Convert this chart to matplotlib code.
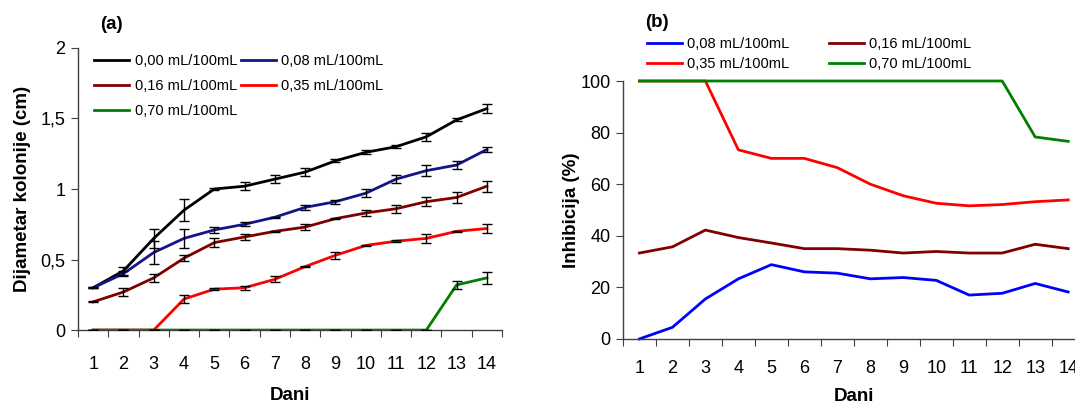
import matplotlib
matplotlib.use("Agg")
import matplotlib.pyplot as plt
import numpy as np

plt.rcParams['font.family'] = ['Liberation Sans', 'DejaVu Sans']

days = list(range(1, 15))

# Colony diameter (cm) per concentration
d000 = [0.30, 0.42, 0.65, 0.85, 1.00, 1.02, 1.07, 1.12, 1.20, 1.26, 1.30, 1.37, 1.49, 1.57]
d008 = [0.30, 0.40, 0.55, 0.65, 0.71, 0.75, 0.80, 0.87, 0.91, 0.97, 1.07, 1.13, 1.17, 1.28]
d016 = [0.20, 0.27, 0.37, 0.51, 0.62, 0.66, 0.70, 0.73, 0.79, 0.83, 0.86, 0.91, 0.94, 1.02]
d035 = [0.00, 0.00, 0.00, 0.22, 0.29, 0.30, 0.36, 0.45, 0.53, 0.60, 0.63, 0.65, 0.70, 0.72]
d070 = [0.00, 0.00, 0.00, 0.00, 0.00, 0.00, 0.00, 0.00, 0.00, 0.00, 0.00, 0.00, 0.32, 0.37]

# Standard deviations
e000 = [0.003, 0.03, 0.07, 0.08, 0.01, 0.03, 0.03, 0.03, 0.01, 0.015, 0.01, 0.03, 0.01, 0.03]
e008 = [0.003, 0.02, 0.08, 0.07, 0.02, 0.015, 0.005, 0.02, 0.015, 0.03, 0.03, 0.04, 0.03, 0.02]
e016 = [0.003, 0.03, 0.03, 0.02, 0.03, 0.02, 0.005, 0.02, 0.005, 0.02, 0.03, 0.03, 0.04, 0.04]
e035 = [0.003, 0.003, 0.003, 0.03, 0.005, 0.015, 0.02, 0.005, 0.025, 0.005, 0.005, 0.03, 0.005, 0.035]
e070 = [0.003, 0.003, 0.003, 0.003, 0.003, 0.003, 0.003, 0.003, 0.003, 0.003, 0.003, 0.003, 0.03, 0.04]

# Growth inhibition (%)
i008 = [0.0, 4.5, 15.5, 23.3, 28.8, 26.0, 25.5, 23.3, 23.8, 22.7, 17.0, 17.7, 21.5, 18.2]
i016 = [33.3, 35.7, 42.2, 39.3, 37.2, 35.0, 35.0, 34.4, 33.3, 33.9, 33.3, 33.3, 36.7, 35.0]
i035 = [100, 100, 100, 73.3, 70.0, 70.0, 66.4, 60.0, 55.5, 52.6, 51.6, 52.1, 53.2, 53.9]
i070 = [100, 100, 100, 100, 100, 100, 100, 100, 100, 100, 100, 100, 78.3, 76.6]

labels = ['0,00 mL/100mL', '0,08 mL/100mL', '0,16 mL/100mL', '0,35 mL/100mL', '0,70 mL/100mL']

fig = plt.figure(figsize=(10.75, 4.03), dpi=100)
ax1 = fig.add_axes([0.0726, 0.181, 0.3944, 0.700])
ax2 = fig.add_axes([0.5795, 0.159, 0.4295, 0.640])

spine_col = '#404040'
x = np.array(days)


def style_axis(ax, ylim, yticks, yticklabels, xpad, xlabelpad):
    ax.set_xlim(0.5, 14.5)
    ax.set_ylim(*ylim)
    for s in ('top', 'right'):
        ax.spines[s].set_visible(False)
    for s in ('left', 'bottom'):
        ax.spines[s].set_color(spine_col)
        ax.spines[s].set_linewidth(1.0)
    ax.set_xticks(np.arange(0.5, 15.0, 1.0))
    ax.set_xticklabels([])
    ax.set_xticks(x, minor=True)
    ax.set_xticklabels([str(d) for d in days], minor=True)
    ax.tick_params(axis='x', which='major', direction='out', length=5, color=spine_col)
    ax.tick_params(axis='x', which='minor', length=0, pad=xpad, labelsize=13)
    ax.set_yticks(yticks)
    ax.set_yticklabels(yticklabels)
    ax.tick_params(axis='y', direction='out', length=5, color=spine_col, labelsize=13, pad=4)
    ax.set_xlabel('Dani', fontsize=13.5, fontweight='bold', labelpad=xlabelpad)


def reorder_rowwise(handles, ncol):
    # legend fills column by column; rearrange so entries read across rows
    return [h for c in range(ncol) for h in handles[c::ncol]]


# Panel (a): colony diameter with error bars
series_a = [(d000, e000, '#000000'), (d008, e008, '#141488'), (d016, e016, '#800000'),
            (d035, e035, '#ff0000'), (d070, e070, '#008000')]
lines_a = []
for (y, e, c), lab in zip(series_a, labels):
    ln, = ax1.plot(x, y, color=c, lw=2.0, label=lab, zorder=3)
    lines_a.append(ln)
for (y, e, c) in series_a:
    ax1.errorbar(x, y, yerr=e, fmt='none', ecolor='black', elinewidth=1.0,
                 capsize=3.8, capthick=1.0, zorder=4)
style_axis(ax1, (0, 2), [0, 0.5, 1, 1.5, 2], ['0', '0,5', '1', '1,5', '2'],
           xpad=19, xlabelpad=10)
ax1.set_ylabel('Dijametar kolonije (cm)', fontsize=13.5, fontweight='bold', labelpad=7)
ha = reorder_rowwise(lines_a, 2)
ax1.legend(ha, [h.get_label() for h in ha], loc='upper left',
           bbox_to_anchor=(0.025, 1.0), ncol=2, frameon=False,
           fontsize=10.5, handlelength=2.4, handletextpad=0.35, columnspacing=0.3,
           labelspacing=0.75, borderaxespad=0)
fig.text(0.104, 0.938, '(a)', fontsize=13.5, fontweight='bold', ha='center', va='center')

# Panel (b): inhibition
series_b = [(i008, '#0000ff'), (i016, '#800000'), (i035, '#ff0000'), (i070, '#008000')]
lines_b = []
for (y, c), lab in zip(series_b, labels[1:]):
    ln, = ax2.plot(x, y, color=c, lw=2.0, label=lab, clip_on=False)
    lines_b.append(ln)
style_axis(ax2, (0, 100), [0, 20, 40, 60, 80, 100], ['0', '20', '40', '60', '80', '100'],
           xpad=15, xlabelpad=8)
ax2.set_ylabel('Inhibicija (%)', fontsize=13.5, fontweight='bold', labelpad=0)
hb = reorder_rowwise(lines_b, 2)
ax2.legend(hb, [h.get_label() for h in hb], loc='lower left',
           bbox_to_anchor=(0.04, 1.015), ncol=2, frameon=False,
           fontsize=10.5, handlelength=2.4, handletextpad=0.35, columnspacing=2.7,
           labelspacing=0.45, borderaxespad=0)
fig.text(0.611, 0.945, '(b)', fontsize=13.5, fontweight='bold', ha='center', va='center')

fig.savefig('out.png', dpi=100)
